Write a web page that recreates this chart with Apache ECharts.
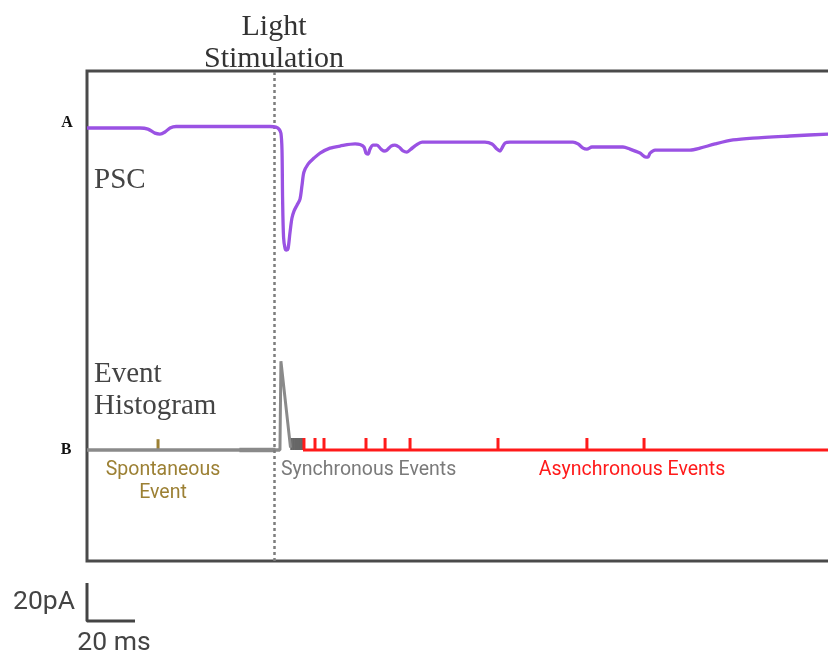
<!DOCTYPE html>
<html>
<head>
<meta charset="utf-8">
<script src="https://cdn.jsdelivr.net/npm/echarts@6/dist/echarts.min.js"></script>
<style>
  html, body { margin: 0; padding: 0; background: #fff; overflow: hidden; }
  /* the recording runs on past the right edge of the view, so the canvas is wider than the window */
  #chart { width: 860px; height: 653px; }
</style>
</head>
<body>
<div id="chart"></div>
<script>
// Postsynaptic current trace (time in ms, current in pA)
const pscTimeMs = [0, 22.1, 25.4, 28.3, 30.4, 32.5, 34.6, 37.1, 47.1, 76.25, 78.75, 80, 80.8, 81.25, 81.5, 81.9, 82.5, 83.1, 83.75, 84.6, 85.4, 86.25, 87.5, 88.75, 89.6, 90.4, 92.1, 94.6, 97.1, 101.25, 105.4, 111.7, 113.75, 115.4, 116.25, 117.1, 117.9, 119.2, 120.8, 122.5, 123.75, 125, 126.7, 128.3, 130, 131.7, 133.3, 135, 137.1, 139.6, 165.8, 168.75, 170.8, 172.1, 172.9, 174.2, 176.25, 202.5, 204.6, 206.7, 208.3, 210.4, 213.75, 223.3, 226.25, 230.4, 232.9, 233.75, 234.6, 236.7, 251.25, 255.4, 261.7, 269.2, 277.5, 292.9, 308.75, 315.8];
const pscCurrentPa = [-0.5, -0.5, -1.1, -3.2, -3.7, -2.6, -0.5, 0.3, 0.3, 0.3, 0, -1.1, -3.2, -12.1, -38, -58, -63.7, -64.7, -64.2, -55.3, -47.9, -44.2, -41.1, -37.9, -30.5, -23.7, -19.5, -16.3, -13.7, -11.1, -10, -8.9, -9.2, -10.5, -13.7, -14.2, -11.6, -9.5, -9.5, -11.6, -12.6, -12.1, -10, -9.5, -10.5, -12.6, -13.2, -11.6, -9.5, -7.9, -7.9, -8.9, -11.6, -12.6, -11.1, -8.4, -7.9, -7.9, -8.9, -11.1, -11.6, -10.5, -10.5, -10.5, -11.6, -13.7, -15.8, -15.8, -13.7, -12.1, -12.1, -11.1, -8.9, -6.8, -5.8, -4.7, -3.7, -3.4];

// Event histogram (time in ms, events per bin)
const histTimeMs = [0, 80.4, 80.8, 81.5, 84.8];
const histCount = [0, 0, 7.4, 7.4, 0.2];
const preStimBinMs = [63.5, 78.5];

// Detected events (time in ms)
const spontaneousEventsMs = [29.6];
const synchronousEventsMs = [85.2, 86.0, 86.8, 87.6, 88.4, 89.2, 89.8];
const asynchronousEventsMs = [90.4, 95, 98.75, 116.25, 124.2, 134.6, 171.25, 208.3, 232.1];
const asyncWindowMs = [90, 320];

const stimulationMs = 78;
const scaleBarMs = 20;
const scaleBarPa = 20;

const zip = (xs, ys) => xs.map((x, i) => [x, ys[i]]);
const ticks = (ts, h) => ts.map(t => [t, h]);

function tickRenderer(color, width) {
  return function (params, api) {
    const t = api.value(0);
    const h = api.value(1);
    const p0 = api.coord([t, 0]);
    const p1 = api.coord([t, h]);
    return {
      type: 'line',
      shape: { x1: p0[0], y1: p0[1], x2: p1[0], y2: p1[1] },
      style: { stroke: color, lineWidth: width }
    };
  };
}

const serif = '"Liberation Serif"';
const sans = 'Roboto';
const chart = echarts.init(document.getElementById('chart'), null, { renderer: 'canvas' });

chart.setOption({
  animation: false,
  backgroundColor: '#ffffff',
  grid: [
    { left: 87, top: 71, width: 756, height: 490, show: true, borderColor: '#4a4a4a', borderWidth: 3, backgroundColor: 'transparent' },
    { left: 87, top: 583, width: 48, height: 38, show: false }
  ],
  xAxis: [
    { gridIndex: 0, type: 'value', min: 0, max: 315, show: false },
    { gridIndex: 1, type: 'value', min: 0, max: scaleBarMs, show: false }
  ],
  yAxis: [
    { gridIndex: 0, type: 'value', min: -228.4, max: 29.5, show: false },
    { gridIndex: 0, type: 'value', min: -9.25, max: 31.58, show: false },
    { gridIndex: 1, type: 'value', min: 0, max: scaleBarPa, show: false }
  ],
  series: [
    {
      name: 'PSC', type: 'line', xAxisIndex: 0, yAxisIndex: 0,
      data: zip(pscTimeMs, pscCurrentPa), showSymbol: false, smooth: 0.3, z: 5,
      lineStyle: { color: '#9a52e3', width: 3.3 },
      markLine: {
        silent: true, symbol: 'none', label: { show: false },
        lineStyle: { color: '#7d7d7d', width: 2.5, type: [3, 3] },
        data: [{ xAxis: stimulationMs }]
      }
    },
    {
      name: 'Baseline', type: 'line', xAxisIndex: 0, yAxisIndex: 1,
      data: [[0, 0], [histTimeMs[1], 0]], showSymbol: false,
      lineStyle: { color: '#8a8a8a', width: 3 }
    },
    {
      name: 'Pre-stimulus bin', type: 'line', xAxisIndex: 0, yAxisIndex: 1,
      data: [[preStimBinMs[0], 0], [preStimBinMs[1], 0]], showSymbol: false,
      lineStyle: { color: '#8a8a8a', width: 4.5 }
    },
    {
      name: 'Event Histogram', type: 'line', xAxisIndex: 0, yAxisIndex: 1,
      data: zip(histTimeMs, histCount), showSymbol: false, z: 4,
      lineStyle: { color: '#8a8a8a', width: 3 }
    },
    {
      name: 'Asynchronous window', type: 'line', xAxisIndex: 0, yAxisIndex: 1,
      data: [[asyncWindowMs[0], 0], [asyncWindowMs[1], 0]], showSymbol: false,
      lineStyle: { color: '#ff1a1a', width: 3 }
    },
    {
      name: 'Spontaneous', type: 'custom', xAxisIndex: 0, yAxisIndex: 1,
      data: ticks(spontaneousEventsMs, 0.9), renderItem: tickRenderer('#9c8034', 3)
    },
    {
      name: 'Synchronous', type: 'custom', xAxisIndex: 0, yAxisIndex: 1,
      data: ticks(synchronousEventsMs, 1), renderItem: tickRenderer('#666666', 2.5)
    },
    {
      name: 'Asynchronous', type: 'custom', xAxisIndex: 0, yAxisIndex: 1,
      data: ticks(asynchronousEventsMs, 1), renderItem: tickRenderer('#ff1a1a', 3)
    },
    {
      name: 'Scale bar', type: 'line', xAxisIndex: 1, yAxisIndex: 2,
      data: [[0, scaleBarPa], [0, 0], [scaleBarMs, 0]], showSymbol: false, clip: false,
      lineStyle: { color: '#444444', width: 3 }
    }
  ],
  graphic: [
    { type: 'text', style: { x: 274, y: 27, text: 'Light', font: '30px ' + serif, fill: '#333', textAlign: 'center', textVerticalAlign: 'middle' } },
    { type: 'text', style: { x: 274, y: 59, text: 'Stimulation', font: '30px ' + serif, fill: '#333', textAlign: 'center', textVerticalAlign: 'middle' } },
    { type: 'text', style: { x: 67, y: 123, text: 'A', font: 'bold 16px ' + serif, fill: '#111', textAlign: 'center', textVerticalAlign: 'middle' } },
    { type: 'text', style: { x: 66, y: 450, text: 'B', font: 'bold 16px ' + serif, fill: '#111', textAlign: 'center', textVerticalAlign: 'middle' } },
    { type: 'text', style: { x: 94, y: 180, text: 'PSC', font: '29px ' + serif, fill: '#444', textAlign: 'left', textVerticalAlign: 'middle' } },
    { type: 'text', style: { x: 94, y: 374, text: 'Event', font: '29px ' + serif, fill: '#444', textAlign: 'left', textVerticalAlign: 'middle' } },
    { type: 'text', style: { x: 94, y: 406, text: 'Histogram', font: '29px ' + serif, fill: '#444', textAlign: 'left', textVerticalAlign: 'middle' } },
    { type: 'text', style: { x: 163, y: 470, text: 'Spontaneous', font: '19.5px ' + sans, fill: '#9c8034', textAlign: 'center', textVerticalAlign: 'middle' } },
    { type: 'text', style: { x: 163, y: 493, text: 'Event', font: '19.5px ' + sans, fill: '#9c8034', textAlign: 'center', textVerticalAlign: 'middle' } },
    { type: 'text', style: { x: 281, y: 470, text: 'Synchronous Events', font: '19.5px ' + sans, fill: '#7a7a7a', textAlign: 'left', textVerticalAlign: 'middle' } },
    { type: 'text', style: { x: 632, y: 470, text: 'Asynchronous Events', font: '19.5px ' + sans, fill: '#ff1a1a', textAlign: 'center', textVerticalAlign: 'middle' } },
    { type: 'text', style: { x: 75, y: 602, text: '20pA', font: '26.5px ' + sans, fill: '#444', textAlign: 'right', textVerticalAlign: 'middle' } },
    { type: 'text', style: { x: 114, y: 643, text: '20 ms', font: '26.5px ' + sans, fill: '#444', textAlign: 'center', textVerticalAlign: 'middle' } }
  ]
});
</script>
</body>
</html>
